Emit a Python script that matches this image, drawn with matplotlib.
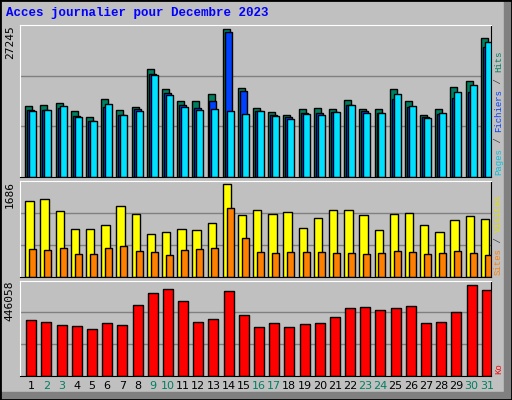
import matplotlib
matplotlib.use("Agg")
import matplotlib.pyplot as plt
import matplotlib.transforms as mtransforms
import numpy as np

days = [str(d) for d in range(1, 32)]
weekend = ['2','3','9','10','16','17','23','24','30','31']
hits = [12814,12994,13353,11916,10838,13892,12096,12635,19281,15689,13533,13533,14790,26467,15868,
        12455,11736,11197,12275,12455,12275,13713,12275,12275,15689,13533,11197,12275,16048,17126,24850]
files = [12096,12096,12455,11018,10120,12635,11197,12275,18383,14970,12994,12455,13533,25928,15329,
         11916,11197,10838,11557,11557,11736,12994,11916,11557,13892,12635,10838,11377,14072,15150,23233]
pages = [11916,12096,12814,10838,10120,13174,11197,11916,18204,14611,12635,12096,12275,11916,11377,
         11916,11018,10479,11377,11197,11736,12994,11557,11557,14790,12814,10659,11557,15150,16407,24132]
visits = [1323,1358,1147,831,831,902,1235,1095,743,779,831,814,937,1622,1077,
          1165,1095,1130,849,1024,1165,1165,1077,814,1095,1112,902,779,989,1060,1007]
sites = [480,462,498,392,392,498,533,445,427,375,462,480,498,1200,673,
         427,410,427,427,427,410,410,392,410,445,427,392,410,445,410,375]
ko = [258894,249536,235500,230821,216784,244857,235500,333754,389900,408615,352470,249536,263572,399258,282288,
      226142,244857,226142,240178,244857,272930,319718,324397,310360,319718,329076,244857,249536,296324,427330,403936]
max_hits, max_visits, max_ko = 27245, 1686, 446058

BG = '#c0c0c0'
fig = plt.figure(figsize=(5.12, 4.0), dpi=100, facecolor=BG)
# shadow on right and bottom
fig.patches.append(plt.Rectangle((1-8/512, 0), 8/512, 1, transform=fig.transFigure, color='#808080', zorder=-1))
fig.patches.append(plt.Rectangle((0, 0), 1, 8/400, transform=fig.transFigure, color='#808080', zorder=-1))
fig.patches.append(plt.Rectangle((0, 0), 1, 1, transform=fig.transFigure, fill=False, ec='black', lw=2))
fig.text(6/512, 1-13/400, 'Acces journalier pour Decembre 2023', color='#0000ff',
         family='Liberation Mono', weight='bold', fontsize=9, va='center')

x = np.arange(31)
L, W = 20.3/512, 470.7/512
axs = [fig.add_axes([L, 0.5575, W, 0.38]),
       fig.add_axes([L, 0.308, W, 0.24]),
       fig.add_axes([L, 0.061, W, 0.2375])]
maxes = [max_hits, max_visits, max_ko]
for ax, m in zip(axs, maxes):
    ax.set_facecolor(BG)
    ax.set_xlim(0, 31)
    ax.set_ylim(0, m)
    for g in (m/3, 2*m/3):
        ax.axhline(g, color='#808080', lw=1, zorder=0)
    ax.set_xticks([]); ax.set_yticks([])
    for s in ('top', 'left'):
        ax.spines[s].set_color('white')
    for s in ('bottom', 'right'):
        ax.spines[s].set_color('black')
    ax.text(-0.012, 1.0, f'{m}', transform=ax.transAxes, rotation=90, ha='right', va='top',
            fontsize=8, family='DejaVu Sans Mono')

ek = dict(edgecolor='black', linewidth=1, align='edge')
axs[0].bar(x+0.33, hits, 0.46, color='#007f5f', **ek)
axs[0].bar(x+0.46, files, 0.46, color='#0040ff', **ek)
axs[0].bar(x+0.59, pages, 0.46, color='#00e0ff', **ek)
axs[1].bar(x+0.33, visits, 0.55, color='#ffff00', **ek)
axs[1].bar(x+0.59, sites, 0.46, color='#ff8000', **ek)
axs[2].bar(x+0.39, ko, 0.66, color='#ff0000', **ek)

for i, d in enumerate(days):
    axs[2].text(i+0.72, -0.06, d, transform=axs[2].get_xaxis_transform(), ha='center', va='top',
                fontsize=8, color='#008060' if d in weekend else 'black')

CH = 5.4  # pixels per character
def right_label(ax, parts):
    off = 0.0
    for txt, col in parts:
        tr = mtransforms.offset_copy(ax.transAxes, fig=fig, x=3, y=2 + off, units='dots')
        ax.text(1.0, 0.0, txt, transform=tr, rotation=90, ha='left', va='bottom',
                fontsize=6.5, color=col, family='Liberation Mono')
        off += len(txt) * CH
right_label(axs[0], [('Pages', '#00c0e0'), (' / ', '#404040'), ('Fichiers', '#0040ff'), (' / ', '#404040'), ('Hits', '#007f5f')])
right_label(axs[1], [('Sites', '#ff8000'), (' / ', '#404040'), ('Visites', '#e0e000')])
right_label(axs[2], [('Ko', '#ff0000')])

fig.savefig('out.png', dpi=100, facecolor=BG)
